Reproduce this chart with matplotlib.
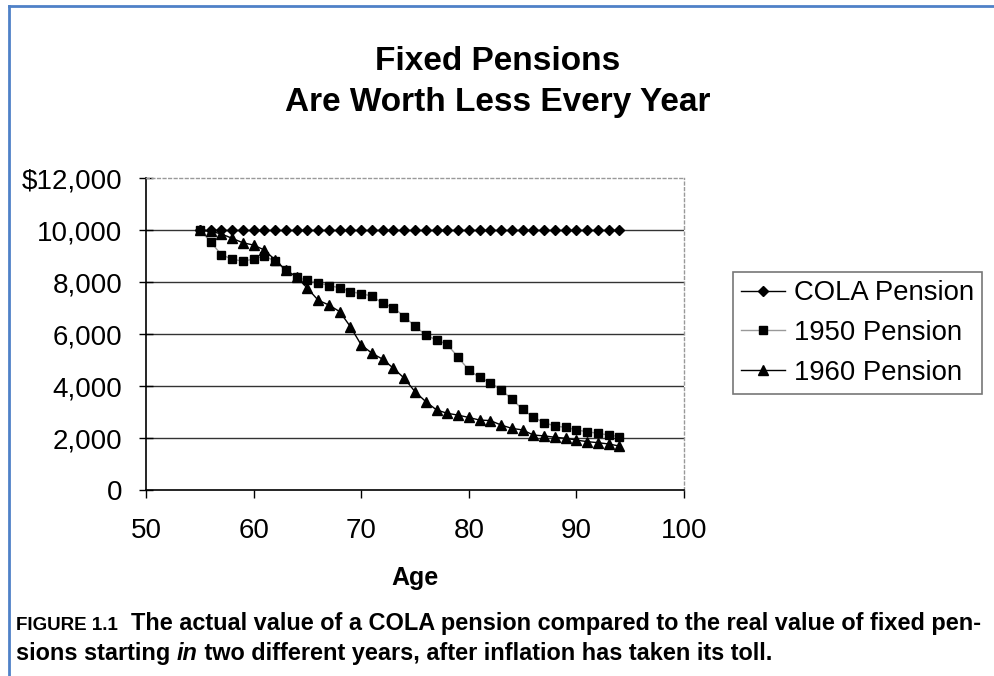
import matplotlib
matplotlib.use("Agg")
import matplotlib.pyplot as plt
from matplotlib.lines import Line2D
import numpy as np

ages = list(range(55, 95))
cola = [10000] * 40
p1950 = [10000, 9550, 9050, 8880, 8800, 8880, 9000, 8800, 8450, 8180,
         8060, 7975, 7860, 7780, 7630, 7550, 7460, 7180, 7010, 6670,
         6300, 5960, 5770, 5600, 5110, 4615, 4330, 4130, 3850, 3500,
         3100, 2800, 2590, 2460, 2410, 2310, 2240, 2180, 2115, 2050]
p1960 = [10000, 9950, 9850, 9680, 9510, 9420, 9230, 8850, 8460, 8200,
         7760, 7300, 7115, 6860, 6280, 5580, 5260, 5030, 4680, 4300,
         3780, 3400, 3080, 2950, 2880, 2790, 2690, 2670, 2500, 2370,
         2310, 2115, 2080, 2030, 1990, 1920, 1860, 1820, 1770, 1690]
series_names = ["COLA Pension", "1950 Pension", "1960 Pension"]
yticks = [0, 2000, 4000, 6000, 8000, 10000, 12000]
ytick_labels = ["0", "2,000", "4,000", "6,000", "8,000", "10,000", "$12,000"]
xticks = [50, 60, 70, 80, 90, 100]

W, H = 995, 676
fig = plt.figure(figsize=(W / 100, H / 100), dpi=100)
fig.patch.set_facecolor("white")
plt.rcParams['font.family'] = ['Liberation Sans', 'DejaVu Sans']

# blue frame
fig.add_artist(Line2D([9 / W, 9 / W], [0, 1 - 6 / H], transform=fig.transFigure,
                      color="#4f81c7", lw=2))
fig.add_artist(Line2D([9 / W, 1], [1 - 6 / H, 1 - 6 / H], transform=fig.transFigure,
                      color="#4f81c7", lw=2))

ax = fig.add_axes([146 / W, 1 - 490 / H, (684 - 146) / W, (490 - 178) / H])
ax.set_xlim(50, 100)
ax.set_ylim(0, 12000)
for y in yticks[1:-1]:
    ax.axhline(y, color="#333333", lw=1.0, zorder=1)

ax.plot(ages, cola, color="black", lw=1, marker="D", ms=5.5, zorder=3, label=series_names[0])
ax.plot(ages, p1950, color="#999999", lw=1, marker="s", ms=6, mfc="black", mec="black",
        zorder=3, label=series_names[1])
ax.plot(ages, p1960, color="black", lw=1, marker="^", ms=7, zorder=4, label=series_names[2])

ax.set_yticks(yticks)
ax.set_yticklabels(ytick_labels, fontsize=20)
ax.set_xticks(xticks)
ax.set_xticklabels([str(x) for x in xticks], fontsize=20)
ax.tick_params(axis="y", direction="inout", length=10, width=1, pad=12)
ax.tick_params(axis="x", direction="out", length=6, width=1, pad=14)
for s in ["left", "bottom"]:
    ax.spines[s].set_color("black")
    ax.spines[s].set_linewidth(1.2)
for s in ["top", "right"]:
    ax.spines[s].set_color("#999999")
    ax.spines[s].set_linewidth(1)
    ax.spines[s].set_linestyle((0, (2, 2)))
ax.set_xlabel("Age", fontsize=18, fontweight="bold", labelpad=16)

leg = ax.legend(loc="center left", bbox_to_anchor=(733 / W, 1 - 333 / H),
                bbox_transform=fig.transFigure, fontsize=19.8, frameon=True,
                fancybox=False, edgecolor="#555555", handlelength=1.6,
                handletextpad=0.3, borderpad=0.3, labelspacing=0.5, borderaxespad=0)
leg.get_frame().set_linewidth(1.2)

fig.text(0.5, 1 - 62 / H, "Fixed Pensions", ha="center", va="center",
         fontsize=24, fontweight="bold")
fig.text(0.5, 1 - 103 / H, "Are Worth Less Every Year", ha="center", va="center",
         fontsize=24, fontweight="bold")

# caption with mixed styles
fig.canvas.draw()
renderer = fig.canvas.get_renderer()
cap_family = ['Liberation Sans', 'DejaVu Sans']

def run(pieces, x0, y0):
    x = x0
    for txt, kw in pieces:
        t = fig.text(x / W, 1 - y0 / H, txt, ha="left", va="baseline", **kw)
        bb = t.get_window_extent(renderer)
        x = bb.x1

base = dict(fontsize=16.9, fontweight="bold", family=cap_family)
run([("FIGURE 1.1", dict(fontsize=13.5, fontweight="bold", family=['Liberation Sans'])),
     ("  The actual value of a COLA pension compared to the real value of fixed pen-", base)],
    16, 630)
run([("sions starting ", base),
     ("in", dict(fontsize=16.9, fontweight="bold", style="italic", family=cap_family)),
     (" two different years, after inflation has taken its toll.", base)],
    16, 660)

fig.savefig("out.png", dpi=100)
